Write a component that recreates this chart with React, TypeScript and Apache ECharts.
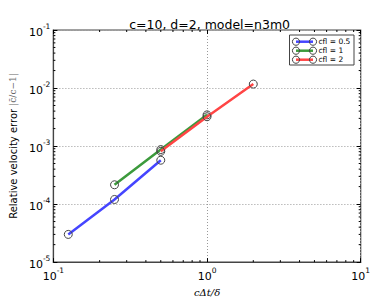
import React, { useEffect, useRef } from "react";
import * as echarts from "echarts";

const cfl05X = [0.125, 0.25, 0.5];
const cfl05Y = [3.0e-5, 1.2e-4, 5.7e-4];
const cfl1X = [0.25, 0.5, 1];
const cfl1Y = [2.15e-4, 8.7e-4, 3.45e-3];
const cfl2X = [0.5, 1, 2];
const cfl2Y = [8.1e-4, 3.2e-3, 1.17e-2];
const seriesNames = ["cfl = 0.5", "cfl = 1", "cfl = 2"];
const seriesColors = ["#4545ff", "#3c9a3c", "#ff4545"];

const xMin = 0.1, xMax = 10, yMin = 1e-5, yMax = 1e-1;

function minorValues(lo: number, hi: number) {
  const out: number[] = [];
  for (let e = Math.round(Math.log10(lo)); e < Math.round(Math.log10(hi)); e++) {
    for (let m = 2; m <= 9; m++) out.push(m * Math.pow(10, e));
  }
  return out;
}
const minorX = minorValues(xMin, xMax);
const minorY = minorValues(yMin, yMax);

const FONT = "DejaVu Sans";

const powLabel = (v: number) => `{b|10}{s|${Math.round(Math.log10(v))}}`;
const richPow = {
  b: { fontSize: 11, color: "#000", fontFamily: FONT, lineHeight: 16, verticalAlign: "bottom" },
  s: { fontSize: 7.5, color: "#000", fontFamily: FONT, lineHeight: 9, verticalAlign: "top" },
};
const gridLine = { lineStyle: { type: [1, 2], color: "#999", width: 1 } };

export default function App() {
  const ref = useRef<HTMLDivElement>(null);
  useEffect(() => {
    document.body.style.margin = "0";
    const chart = echarts.init(ref.current!, null, { renderer: "svg" });
    const mk = (xs: number[], ys: number[], i: number) => ({
      type: "line",
      name: seriesNames[i],
      data: xs.map((x, k) => [x, ys[k]]),
      symbol: "circle",
      symbolSize: 8,
      lineStyle: { color: seriesColors[i], width: 2.5 },
      itemStyle: { color: "rgba(0,0,0,0)", borderColor: "#444", borderWidth: 1 },
      z: 3 + i,
    });
    const legendItems: any[] = [];
    seriesNames.forEach((n, i) => {
      const y = 41.7 + i * 9;
      legendItems.push(
        { type: "line", shape: { x1: 296, y1: y, x2: 313, y2: y }, style: { stroke: seriesColors[i], lineWidth: 2.5 } },
        { type: "circle", shape: { cx: 296, cy: y, r: 3.6 }, style: { fill: "none", stroke: "#444", lineWidth: 1 } },
        { type: "circle", shape: { cx: 313, cy: y, r: 3.6 }, style: { fill: "none", stroke: "#444", lineWidth: 1 } },
        { type: "text", x: 318.5, y: y, style: { text: n, fontSize: 7.5, fontFamily: FONT, fill: "#000", verticalAlign: "middle" } }
      );
    });
    const option: any = {
      animation: false,
      backgroundColor: "#fff",
      title: {
        text: "c=10, d=2, model=n3m0",
        left: 204.6,
        textAlign: "center",
        top: 13,
        textStyle: { fontSize: 12.5, fontWeight: "normal", color: "#000", fontFamily: FONT },
      },
      grid: { left: 48.5, right: 29.3, top: 30, bottom: 31, show: true, borderColor: "#444", borderWidth: 1.2 },
      xAxis: [
        {
          type: "log", logBase: 10, min: xMin, max: xMax,
          name: "cΔt/δ", nameLocation: "middle", nameGap: 20,
          nameTextStyle: { fontSize: 10, fontStyle: "italic", fontFamily: "DejaVu Serif", color: "#000" },
          axisLine: { show: true, lineStyle: { color: "#444", width: 1.2 } },
          axisTick: { show: true, inside: true, length: 4, lineStyle: { color: "#000" } },
          axisLabel: { formatter: powLabel, rich: richPow, margin: 4 },
          splitLine: { show: true, ...gridLine },
        },
        {
          type: "log", logBase: 10, min: xMin, max: xMax, position: "top",
          axisLine: { show: false },
          axisTick: { show: true, inside: true, length: 4, lineStyle: { color: "#000" } },
          axisLabel: { show: false }, splitLine: { show: false },
        },
      ],
      yAxis: [
        {
          type: "log", logBase: 10, min: yMin, max: yMax,
          name: "{a|Relative velocity error }{m||c̄/c−1|}",
          nameLocation: "middle", nameGap: 31, nameRotate: 90,
          nameTextStyle: {
            rich: {
              a: { fontSize: 10, fontFamily: FONT, color: "#000" },
              m: { fontSize: 9, fontFamily: "DejaVu Serif", color: "#666" },
            },
          },
          axisLine: { show: true, lineStyle: { color: "#444", width: 1.2 } },
          axisTick: { show: true, inside: true, length: 4, lineStyle: { color: "#000" } },
          axisLabel: { formatter: powLabel, rich: richPow, margin: 3 },
          splitLine: { show: true, ...gridLine },
        },
        {
          type: "log", logBase: 10, min: yMin, max: yMax, position: "right",
          axisLine: { show: false },
          axisTick: { show: true, inside: true, length: 4, lineStyle: { color: "#000" } },
          axisLabel: { show: false }, splitLine: { show: false },
        },
      ],
      series: [
        mk(cfl05X, cfl05Y, 0),
        mk(cfl1X, cfl1Y, 1),
        mk(cfl2X, cfl2Y, 2),
        {
          type: "custom",
          data: [[1, 1e-3]],
          clip: false,
          silent: true,
          z: 10,
          renderItem: (params: any, api: any) => {
            const cs = params.coordSys;
            const children: any[] = [];
            const L = 2;
            const st = { stroke: "#000", lineWidth: 1 };
            minorX.forEach((v) => {
              const px = api.coord([v, 1e-3])[0];
              children.push({ type: "line", shape: { x1: px, y1: cs.y + cs.height, x2: px, y2: cs.y + cs.height - L }, style: st });
              children.push({ type: "line", shape: { x1: px, y1: cs.y, x2: px, y2: cs.y + L }, style: st });
            });
            minorY.forEach((v) => {
              const py = api.coord([1, v])[1];
              children.push({ type: "line", shape: { x1: cs.x, y1: py, x2: cs.x + L, y2: py }, style: st });
              children.push({ type: "line", shape: { x1: cs.x + cs.width, y1: py, x2: cs.x + cs.width - L, y2: py }, style: st });
            });
            return { type: "group", children };
          },
        },
      ],
      graphic: [
        {
          type: "group",
          children: [
            { type: "rect", shape: { x: 289.5, y: 35, width: 64.5, height: 30 }, style: { fill: "#fff", stroke: "#444", lineWidth: 1 } },
            ...legendItems,
          ],
        },
      ],
    };
    chart.setOption(option);
    return () => chart.dispose();
  }, []);
  return <div ref={ref} style={{ width: 390, height: 302 }} />;
}
